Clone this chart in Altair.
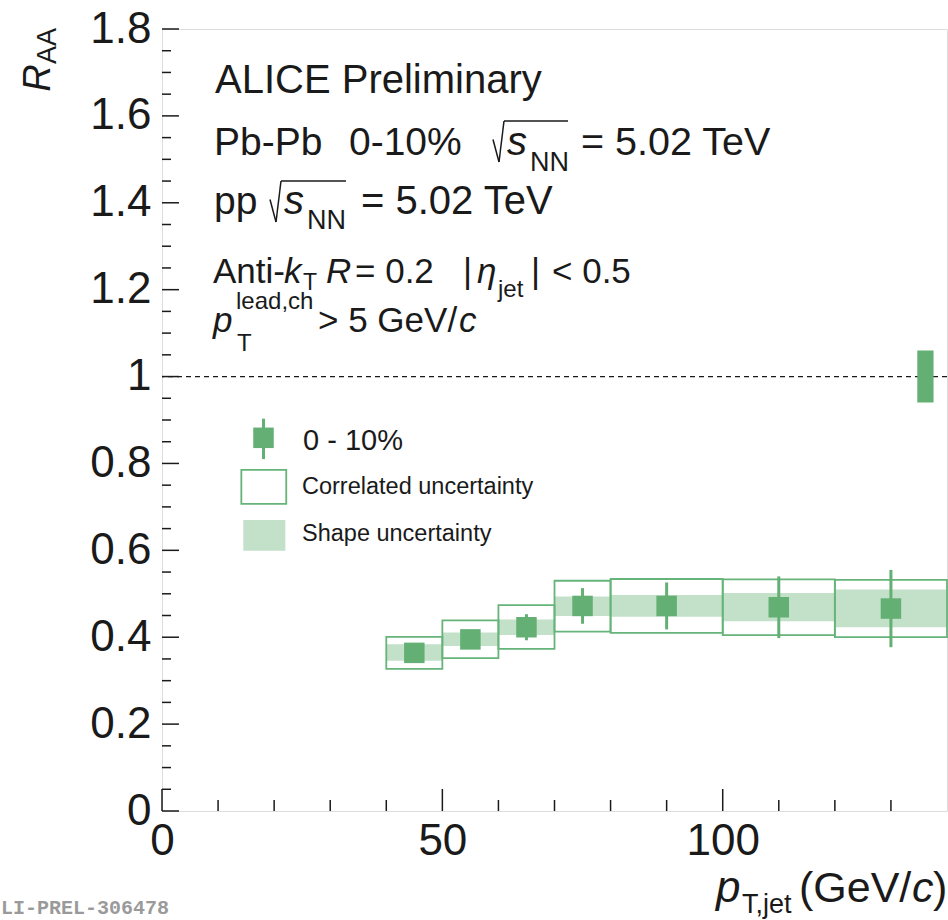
import altair as alt
import pandas as pd

# ---------------- data ----------------
bin_lo = [40, 50, 60, 70, 80, 100, 120]
bin_hi = [50, 60, 70, 80, 100, 120, 140]
pt_jet = [45, 55, 65, 75, 90, 110, 130]
raa = [0.364, 0.395, 0.423, 0.472, 0.472, 0.469, 0.466]
stat_err = [0.012, 0.015, 0.030, 0.041, 0.054, 0.071, 0.089]
corr_lo = [0.327, 0.352, 0.373, 0.413, 0.410, 0.405, 0.400]
corr_hi = [0.401, 0.439, 0.474, 0.530, 0.534, 0.533, 0.532]
shape_lo = [0.346, 0.380, 0.405, 0.449, 0.447, 0.437, 0.423]
shape_hi = [0.384, 0.411, 0.441, 0.494, 0.497, 0.502, 0.510]

norm_x = [134.7, 137.6]
norm_y = [0.94, 1.06]

y_major = [0, 0.2, 0.4, 0.6, 0.8, 1, 1.2, 1.4, 1.6, 1.8]
y_minor = [round(i * 0.05, 2) for i in range(37) if i % 4 != 0]
x_major = [0, 50, 100]
x_minor = [10, 20, 30, 40, 60, 70, 80, 90, 110, 120, 130]

# legend glyph placement (data coordinates)
leg_marker = {"x": 18.1, "y": 0.859, "lo": 0.810, "hi": 0.903}
leg_corr = {"x": 14.15, "x2": 22.16, "y": 0.707, "y2": 0.785}
leg_shape = {"x": 14.5, "x2": 22.0, "y": 0.599, "y2": 0.670}

# ---------------- styling ----------------
FONT = "Liberation Sans"
GREEN = "#63AF74"
BOX = "#66B479"
BAND = "#C3E0C9"
INK = "#1a1a1a"
W, H = 785, 782
OX, OY = 162, 29  # plot origin on the page

df = pd.DataFrame({
    "lo": bin_lo, "hi": bin_hi, "pt": pt_jet, "raa": raa,
    "slo": [r - e for r, e in zip(raa, stat_err)],
    "shi": [r + e for r, e in zip(raa, stat_err)],
    "clo": corr_lo, "chi": corr_hi, "sh_lo": shape_lo, "sh_hi": shape_hi,
})

XS = alt.Scale(domain=[0, 140], nice=False, zero=False)
YS = alt.Scale(domain=[0, 1.8], nice=False, zero=False)
X_AX = alt.Axis(values=x_major, title=None, ticks=False, domain=False, grid=False,
                labelFont=FONT, labelFontSize=44, labelColor=INK, labelPadding=8,
                labelFlush=False, labelOverlap=False)
Y_AX = alt.Axis(values=y_major, format="~g", title=None, ticks=False, domain=False,
                grid=False, labelFont=FONT, labelFontSize=44, labelColor=INK,
                labelPadding=11, labelOverlap=False)


def X(f):
    return alt.X(f, scale=XS, axis=X_AX)


def Y(f):
    return alt.Y(f, scale=YS, axis=Y_AX)


base = alt.Chart(df)

band = base.mark_rect(color=BAND).encode(x=X("lo:Q"), x2="hi:Q", y=Y("sh_lo:Q"), y2="sh_hi:Q")
corr = base.mark_rect(fillOpacity=0, stroke=BOX, strokeWidth=1.8).encode(
    x=X("lo:Q"), x2="hi:Q", y=Y("clo:Q"), y2="chi:Q")
err = base.mark_rule(color=GREEN, strokeWidth=3).encode(x=X("pt:Q"), y=Y("slo:Q"), y2="shi:Q")
pts = base.mark_square(size=420, color=GREEN, opacity=1).encode(x=X("pt:Q"), y=Y("raa:Q"))

unity = alt.Chart().mark_rule(color=INK, strokeWidth=1.3, strokeDash=[5, 4]).encode(
    y=alt.Y(datum=1, scale=YS, axis=Y_AX))
norm = alt.Chart(pd.DataFrame({"x": [norm_x[0]], "x2": [norm_x[1]],
                               "y": [norm_y[0]], "y2": [norm_y[1]]})).mark_rect(color=GREEN).encode(
    x=X("x:Q"), x2="x2:Q", y=Y("y:Q"), y2="y2:Q")

# legend glyphs
lm = pd.DataFrame([leg_marker])
leg_err = alt.Chart(lm).mark_rule(color=GREEN, strokeWidth=3).encode(x=X("x:Q"), y=Y("lo:Q"), y2="hi:Q")
leg_pt = alt.Chart(lm).mark_square(size=420, color=GREEN, opacity=1).encode(x=X("x:Q"), y=Y("y:Q"))
leg_c = alt.Chart(pd.DataFrame([leg_corr])).mark_rect(fillOpacity=0, stroke=BOX, strokeWidth=1.8).encode(
    x=X("x:Q"), x2="x2:Q", y=Y("y:Q"), y2="y2:Q")
leg_s = alt.Chart(pd.DataFrame([leg_shape])).mark_rect(color=BAND).encode(
    x=X("x:Q"), x2="x2:Q", y=Y("y:Q"), y2="y2:Q")


# inward ticks of the frame
def yticks(vals, length):
    return alt.Chart(pd.DataFrame({"v": vals})).mark_rule(color=INK, strokeWidth=1.5).encode(
        y=Y("v:Q"), x=alt.value(0), x2=alt.value(length))


def xticks(vals, length):
    return alt.Chart(pd.DataFrame({"v": vals})).mark_rule(color=INK, strokeWidth=1.5).encode(
        x=X("v:Q"), y=alt.value(H - length), y2=alt.value(H))


ticks = [yticks(y_major, 17), yticks(y_minor, 9), xticks(x_major, 22), xticks(x_minor, 11)]


def txt(s, px, py, size, italic=False, angle=0, color=INK, font=FONT, weight="normal", align="left"):
    kw = dict(text=s, font=font, fontSize=size, color=color, align=align,
              baseline="alphabetic", fontWeight=weight)
    if italic:
        kw["fontStyle"] = "italic"
    if angle:
        kw["angle"] = angle
    return alt.Chart().mark_text(**kw).encode(x=alt.value(px - OX), y=alt.value(py - OY))


def seg(px1, py1, px2, py2, width=1.5):
    return alt.Chart().mark_rule(color=INK, strokeWidth=width).encode(
        x=alt.value(px1 - OX), x2=alt.value(px2 - OX),
        y=alt.value(py1 - OY), y2=alt.value(py2 - OY))


def sqrt_sign(px, ptop, pbot, px_end):
    # ROOT-style radical: short down stroke, long up stroke, overbar
    mid = ptop + (pbot - ptop) * 0.45
    return [seg(px, mid, px + 6, pbot), seg(px + 6, pbot, px + 11, ptop),
            seg(px + 11, ptop, px_end, ptop)]


texts = [
    txt("ALICE Preliminary", 215, 93, 40),
    txt("Pb-Pb", 214, 155, 39), txt("0-10%", 349, 155, 39),
    *sqrt_sign(493, 121, 162, 568),
    txt("s", 507, 155, 40, italic=True), txt("NN", 530, 171, 27),
    txt("= 5.02 TeV", 581, 155, 39.5),
    txt("pp", 214, 214, 39),
    *sqrt_sign(270, 181, 222, 346),
    txt("s", 284, 214, 40, italic=True), txt("NN", 307, 229, 27),
    txt("= 5.02 TeV", 361, 214, 40),
    txt("Anti-", 213, 283, 35), txt("k", 284, 283, 35, italic=True), txt("T", 303, 290, 23),
    txt("R", 326, 283, 35, italic=True), txt("= 0.2", 355, 283, 35),
    txt("|", 463, 283, 35), txt("\u03b7", 477, 283, 35, italic=True), txt("jet", 498, 297, 24),
    txt("|", 531, 283, 35), txt("< 0.5", 552, 283, 35),
    txt("p", 213, 332, 35, italic=True), txt("lead,ch", 236, 309, 24), txt("T", 237, 351, 24),
    txt("> 5 GeV/", 318, 332, 35), txt("c", 459, 332, 35, italic=True),
    # legend texts
    txt("0 - 10%", 303, 450, 29),
    txt("Correlated uncertainty", 302, 494, 23.5),
    txt("Shape uncertainty", 302, 541, 23.5),
    # axis titles
    txt("R", 50, 78, 38, italic=True, angle=270, align="center"),
    txt("AA", 56, 46, 27, angle=270, align="center"),
    txt("p", 716, 902, 44, italic=True), txt("T,jet", 742, 913, 27),
    txt("(GeV/", 799, 902, 43), txt("c", 912, 902, 43, italic=True), txt(")", 933, 902, 43),
    txt("LI-PREL-306478", 1, 914, 20, color="#9a9a9a", font="Liberation Mono", weight="bold"),
]

chart = alt.layer(
    band, corr, unity, norm, err, pts, leg_s, leg_c, leg_err, leg_pt, *ticks, *texts
).properties(
    width=W, height=H,
    autosize=alt.AutoSizeParams(type="none"),
    padding={"left": OX, "top": OY, "right": 948 - OX - W, "bottom": 920 - OY - H},
).configure_view(stroke=INK, strokeWidth=2).configure(background="white")

chart.save("out.html", embed_options={"renderer": "svg", "actions": False})
